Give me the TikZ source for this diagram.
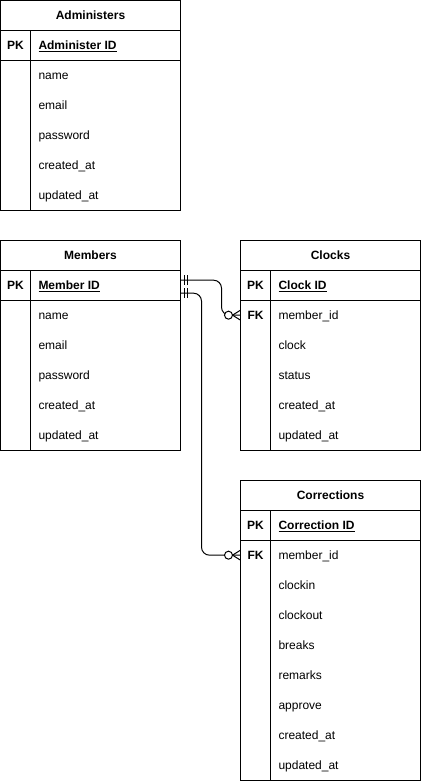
\documentclass[tikz,border=0pt]{standalone}
\usepackage{fontspec}
\setmainfont{Liberation Sans}
\usetikzlibrary{calc,positioning}

\begin{document}
\begin{tikzpicture}[x=1pt, y=-1pt, line width=1pt, font=\fontsize{12}{14}\selectfont,
    table/.style={draw, anchor=north west, minimum width=180pt, inner sep=0pt, outer sep=0pt},
    title/.style={anchor=base, inner sep=0pt, font=\fontsize{12}{14}\selectfont\bfseries},
    key/.style={anchor=base, inner sep=0pt, font=\fontsize{12}{14}\selectfont\bfseries},
    field/.style={anchor=base west, inner sep=0pt},
    keyfield/.style={field, font=\fontsize{12}{14}\selectfont\bfseries},
    rel/.style={rounded corners=8pt}]
    \useasboundingbox (0,0) rectangle (421,781);

    % Administers
    \node[table, minimum height=210pt] (adm) at (0.5,0.5) {};
    \node[title] (admt) at (90.5,19.3) {Administers};
    \draw (0.5,30.5) -- (180.5,30.5);
    \draw (0.5,60.5) -- (180.5,60.5);
    \draw (30.5,30.5) -- (30.5,210.5);
    \node[key] (admk) at (15.5,49.3) {PK};
    \node[keyfield] (admid) at (38,49.3) {\underline{Administer ID}};
    \foreach \f [count=\i] in {name,email,password,created\_at,updated\_at}
        \node[field] (adm\i) at (38,49.3+30*\i) {\f};

    % Members
    \node[table, minimum height=210pt] (mem) at (0.5,240.5) {};
    \node[title] (memt) at (90.5,259.3) {Members};
    \draw (0.5,270.5) -- (180.5,270.5);
    \draw (0.5,300.5) -- (180.5,300.5);
    \draw (30.5,270.5) -- (30.5,450.5);
    \node[key] (memk) at (15.5,289.3) {PK};
    \node[keyfield] (memid) at (38,289.3) {\underline{Member ID}};
    \foreach \f [count=\i] in {name,email,password,created\_at,updated\_at}
        \node[field] (mem\i) at (38,289.3+30*\i) {\f};

    % Clocks
    \node[table, minimum height=210pt] (clk) at (240.5,240.5) {};
    \node[title] (clkt) at (330.5,259.3) {Clocks};
    \draw (240.5,270.5) -- (420.5,270.5);
    \draw (240.5,300.5) -- (420.5,300.5);
    \draw (270.5,270.5) -- (270.5,450.5);
    \node[key] (clkk) at (255.5,289.3) {PK};
    \node[keyfield] (clkid) at (278,289.3) {\underline{Clock ID}};
    \node[key] (clkf) at (255.5,319.3) {FK};
    \node[field] (clkmid) at (278,319.3) {member\_id};
    \foreach \f [count=\i] in {clock,status,created\_at,updated\_at}
        \node[field] (clk\i) at (278,319.3+30*\i) {\f};

    % Corrections
    \node[table, minimum height=300pt] (cor) at (240.5,480.5) {};
    \node[title] (cort) at (330.5,499.3) {Corrections};
    \draw (240.5,510.5) -- (420.5,510.5);
    \draw (240.5,540.5) -- (420.5,540.5);
    \draw (270.5,510.5) -- (270.5,780.5);
    \node[key] (cork) at (255.5,529.3) {PK};
    \node[keyfield] (corid) at (278,529.3) {\underline{Correction ID}};
    \node[key] (corf) at (255.5,559.3) {FK};
    \node[field] (cormid) at (278,559.3) {member\_id};
    \foreach \f [count=\i] in {clockin,clockout,breaks,remarks,approve,created\_at,updated\_at}
        \node[field] (cor\i) at (278,559.3+30*\i) {\f};

    % relations
    \coordinate (r1) at ($(mem.east |- memk)+(0,-5)$);
    \coordinate (r2) at ($(mem.east |- memk)+(0,8)$);
    \coordinate (e1) at (clk.west |- clkf);
    \coordinate (e2) at (cor.west |- corf);
    \draw[rel] (r1) -- ++(41,0) |- (e1);
    \draw[rel] (r2) -- ++(21,0) |- (e2);

    % one and only one
    \foreach \r in {r1,r2} {
        \draw ($(\r)+(4,-5)$) -- ++(0,10);
        \draw ($(\r)+(7,-5)$) -- ++(0,10);
    }
    % zero or many
    \foreach \e in {e1,e2} {
        \draw ($(\e)+(-8,0)$) -- ++(8,-5);
        \draw ($(\e)+(-8,0)$) -- ++(8,5);
        \draw[fill=white] ($(\e)+(-12,0)$) circle (4pt);
    }
\end{tikzpicture}
\end{document}
